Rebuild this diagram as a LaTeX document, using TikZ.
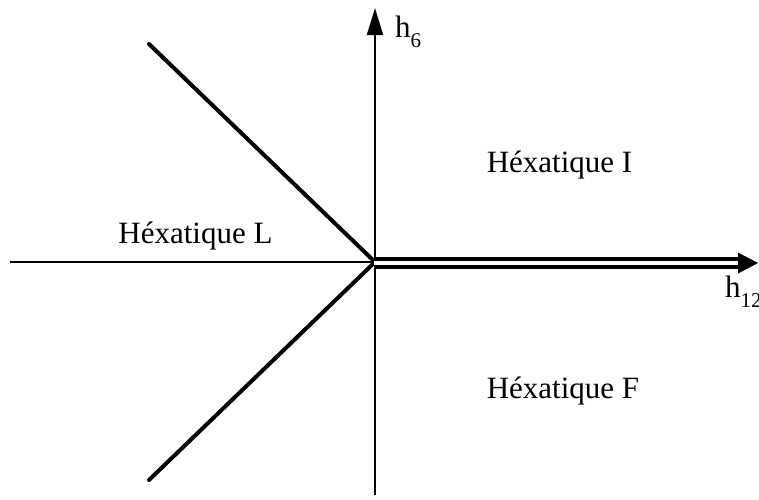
\documentclass[tikz,border=0pt]{standalone}
\usepackage{fontspec}
\setmainfont{Liberation Serif}
\usetikzlibrary{arrows.meta}
\begin{document}
\begin{tikzpicture}[x=1pt,y=-1pt,
  lbl/.style={inner sep=0pt, font=\fontsize{31}{36}\selectfont},
  axisline/.style={line width=2pt},
  thinline/.style={line width=1.3pt},
  boundary/.style={line width=4pt, line cap=round}]
\useasboundingbox (0,0) rectangle (759,499);
\coordinate (O) at (375,262);
\coordinate (vbot) at (375,495);
\coordinate (vtop) at (375,8);
\coordinate (hleft) at (10,262);
\coordinate (ul) at (149,44);
\coordinate (ll) at (149,480);
\coordinate (dstart) at (374,263);
\coordinate (dend) at (738,263);
\coordinate (tipA) at (738,252.5);
\coordinate (tipB) at (758,263);
\coordinate (tipC) at (738,273.5);
% vertical axis with arrow
\draw[axisline, -{Triangle[length=27pt,width=16pt]}] (vbot) -- (vtop);
% thin horizontal line
\draw[thinline] (hleft) -- (O);
% diagonals
\draw[boundary] (ul) -- (O);
\draw[boundary] (ll) -- (O);
% double line
\draw[line width=4pt, double=white, double distance=4pt] (dstart) -- (dend);
\fill (tipA) -- (tipB) -- (tipC) -- cycle;
% labels
\node[lbl, anchor=base west] (h6) at (395,37) {h\raisebox{-10pt}{\fontsize{21}{21}\selectfont 6}};
\node[lbl, anchor=base west] (h12) at (725,297) {h\raisebox{-10pt}{\fontsize{21}{21}\selectfont 12}};
\node[lbl, anchor=base] (hI) at (559.5,172) {Héxatique I};
\node[lbl, anchor=base] (hL) at (195.5,243) {Héxatique L};
\node[lbl, anchor=base] (hF) at (563,398) {Héxatique F};
\end{tikzpicture}
\end{document}
